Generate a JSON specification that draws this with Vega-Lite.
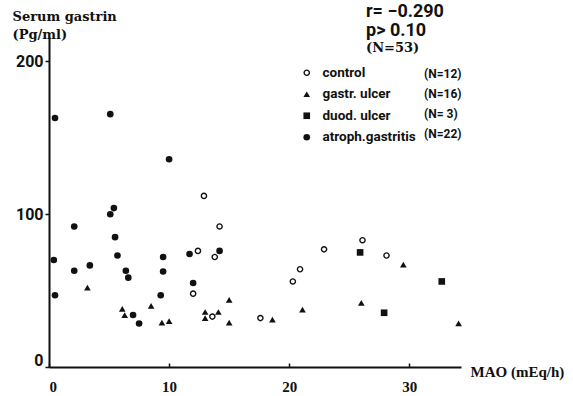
{
  "$schema": "https://vega.github.io/schema/vega-lite/v6.json",
  "width": 412,
  "height": 330,
  "autosize": {"type": "none"},
  "padding": {"left": 49, "top": 37, "right": 112, "bottom": 29},
  "background": "white",
  "config": {
    "view": {"stroke": null},
    "axis": {
      "grid": false,
      "domainColor": "#111",
      "domainWidth": 2,
      "tickColor": "#111",
      "tickWidth": 1.5,
      "labelColor": "#111",
      "titleColor": "#111"
    },
    "legend": {"padding": 0}
  },
  "title": {
    "text": ["r= −0.290", "p> 0.10"],
    "subtitle": " (N=53)",
    "anchor": "start",
    "frame": "group",
    "dx": 317,
    "dy": 49,
    "font": "Roboto",
    "fontSize": 18,
    "fontWeight": "bold",
    "color": "#111",
    "lineHeight": 19,
    "subtitleFont": "DejaVu Serif",
    "subtitleFontSize": 13,
    "subtitleFontWeight": "bold",
    "subtitleColor": "#111",
    "subtitlePadding": 2
  },
  "data": {
    "values": [
      {"mao": 12.4, "gastrin": 76, "group": "control"},
      {"mao": 12.0, "gastrin": 48, "group": "control"},
      {"mao": 13.6, "gastrin": 33, "group": "control"},
      {"mao": 17.6, "gastrin": 32, "group": "control"},
      {"mao": 20.3, "gastrin": 56, "group": "control"},
      {"mao": 20.9, "gastrin": 64, "group": "control"},
      {"mao": 12.9, "gastrin": 112, "group": "control"},
      {"mao": 14.2, "gastrin": 92, "group": "control"},
      {"mao": 13.8, "gastrin": 72, "group": "control"},
      {"mao": 22.9, "gastrin": 77, "group": "control"},
      {"mao": 26.1, "gastrin": 83, "group": "control"},
      {"mao": 28.1, "gastrin": 73, "group": "control"},

      {"mao": 3.2, "gastrin": 52, "group": "gastr. ulcer"},
      {"mao": 6.1, "gastrin": 38, "group": "gastr. ulcer"},
      {"mao": 6.3, "gastrin": 34, "group": "gastr. ulcer"},
      {"mao": 8.5, "gastrin": 40, "group": "gastr. ulcer"},
      {"mao": 9.4, "gastrin": 29, "group": "gastr. ulcer"},
      {"mao": 10.0, "gastrin": 30, "group": "gastr. ulcer"},
      {"mao": 13.0, "gastrin": 36, "group": "gastr. ulcer"},
      {"mao": 13.0, "gastrin": 32, "group": "gastr. ulcer"},
      {"mao": 14.1, "gastrin": 36, "group": "gastr. ulcer"},
      {"mao": 15.0, "gastrin": 44, "group": "gastr. ulcer"},
      {"mao": 15.0, "gastrin": 29, "group": "gastr. ulcer"},
      {"mao": 18.6, "gastrin": 31, "group": "gastr. ulcer"},
      {"mao": 21.1, "gastrin": 37.5, "group": "gastr. ulcer"},
      {"mao": 26.0, "gastrin": 42, "group": "gastr. ulcer"},
      {"mao": 29.5, "gastrin": 67, "group": "gastr. ulcer"},
      {"mao": 34.1, "gastrin": 28.5, "group": "gastr. ulcer"},

      {"mao": 25.9, "gastrin": 75, "group": "duod. ulcer"},
      {"mao": 32.7, "gastrin": 56, "group": "duod. ulcer"},
      {"mao": 27.9, "gastrin": 35.5, "group": "duod. ulcer"},

      {"mao": 0.5, "gastrin": 163, "group": "atroph.gastritis"},
      {"mao": 5.1, "gastrin": 165.5, "group": "atroph.gastritis"},
      {"mao": 10.0, "gastrin": 136, "group": "atroph.gastritis"},
      {"mao": 5.4, "gastrin": 104, "group": "atroph.gastritis"},
      {"mao": 5.1, "gastrin": 100, "group": "atroph.gastritis"},
      {"mao": 2.1, "gastrin": 92, "group": "atroph.gastritis"},
      {"mao": 5.5, "gastrin": 85, "group": "atroph.gastritis"},
      {"mao": 0.4, "gastrin": 70, "group": "atroph.gastritis"},
      {"mao": 5.7, "gastrin": 73, "group": "atroph.gastritis"},
      {"mao": 9.5, "gastrin": 72, "group": "atroph.gastritis"},
      {"mao": 11.7, "gastrin": 74, "group": "atroph.gastritis"},
      {"mao": 3.4, "gastrin": 66.5, "group": "atroph.gastritis"},
      {"mao": 2.1, "gastrin": 63, "group": "atroph.gastritis"},
      {"mao": 6.4, "gastrin": 63, "group": "atroph.gastritis"},
      {"mao": 6.6, "gastrin": 58.5, "group": "atroph.gastritis"},
      {"mao": 9.5, "gastrin": 62.5, "group": "atroph.gastritis"},
      {"mao": 12.0, "gastrin": 55, "group": "atroph.gastritis"},
      {"mao": 0.5, "gastrin": 47, "group": "atroph.gastritis"},
      {"mao": 9.3, "gastrin": 47, "group": "atroph.gastritis"},
      {"mao": 7.0, "gastrin": 34, "group": "atroph.gastritis"},
      {"mao": 7.5, "gastrin": 28.5, "group": "atroph.gastritis"},
      {"mao": 14.2, "gastrin": 76, "group": "atroph.gastritis"}
    ]
  },
  "transform": [
    {"joinaggregate": [{"op": "count", "as": "n"}], "groupby": ["group"]},
    {"calculate": "'(N=' + datum.n + ')'", "as": "nlabel"}
  ],
  "mark": {"type": "point", "filled": true, "color": "#111", "size": 44, "strokeWidth": 0, "opacity": 1},
  "encoding": {
    "x": {
      "field": "mao",
      "type": "quantitative",
      "scale": {"domain": [0, 34.3], "nice": false, "zero": false},
      "axis": {
        "values": [0, 10, 20, 30],
        "labelFont": "Liberation Serif",
        "labelFontWeight": "bold",
        "labelFontSize": 15,
        "tickSize": -4,
        "labelPadding": 16,
        "title": "MAO (mEq/h)",
        "titleFont": "Liberation Serif",
        "titleFontSize": 15,
        "titleFontWeight": "bold",
        "titleAlign": "left",
        "titleBaseline": "middle",
        "titleAnchor": "start",
        "titleX": 421,
        "titleY": 4
      }
    },
    "y": {
      "field": "gastrin",
      "type": "quantitative",
      "scale": {"domain": [0, 216], "nice": false},
      "axis": {
        "values": [0, 100, 200],
        "labelFont": "Roboto",
        "labelFontWeight": "bold",
        "labelFontSize": 16,
        "tickSize": 4,
        "labelPadding": 2,
        "labelBaseline": {"condition": {"test": "datum.value === 0", "value": "bottom"}, "value": "middle"},
        "labelOffset": {"condition": {"test": "datum.value === 0", "value": 1}, "value": 0},
        "title": ["Serum gastrin", "(Pg/ml)"],
        "titleAngle": 0,
        "titleAlign": "left",
        "titleBaseline": "top",
        "titleAnchor": "start",
        "titleX": -37,
        "titleY": -27,
        "titleFont": "DejaVu Serif",
        "titleFontSize": 13,
        "titleFontWeight": "bold",
        "titleLineHeight": 18
      }
    },
    "shape": {
      "field": "group",
      "type": "nominal",
      "scale": {
        "domain": ["control", "gastr. ulcer", "duod. ulcer", "atroph.gastritis"],
        "range": [
          "M0,-1A1,1 0 1,1 0,1A1,1 0 1,1 0,-1ZM0,-0.58A0.58,0.58 0 1,0 0,0.58A0.58,0.58 0 1,0 0,-0.58Z",
          "triangle-up",
          "square",
          "circle"
        ]
      },
      "legend": {
        "orient": "none",
        "legendX": 251,
        "legendY": 29,
        "title": null,
        "labelFont": "Roboto",
        "labelFontSize": 13.5,
        "labelFontWeight": "bold",
        "labelColor": "#111",
        "symbolFillColor": "#111",
        "symbolStrokeWidth": 0,
        "symbolSize": 44,
        "labelOffset": 9,
        "rowPadding": 6.5
      }
    },
    "opacity": {
      "field": "nlabel",
      "type": "nominal",
      "scale": {
        "type": "ordinal",
        "domain": ["(N=12)", "(N=16)", "(N=3)", "(N=22)"],
        "range": [1, 1, 1, 1]
      },
      "legend": {
        "orient": "none",
        "legendX": 363,
        "legendY": 31,
        "title": null,
        "symbolSize": 0,
        "symbolOpacity": 0,
        "symbolStrokeWidth": 0,
        "labelOffset": 0,
        "labelFont": "Roboto",
        "labelFontSize": 12,
        "labelFontWeight": "bold",
        "labelColor": "#111",
        "labelExpr": "replace(datum.label, '(N=3)', '(N= 3)')",
        "rowPadding": 8
      }
    }
  }
}
